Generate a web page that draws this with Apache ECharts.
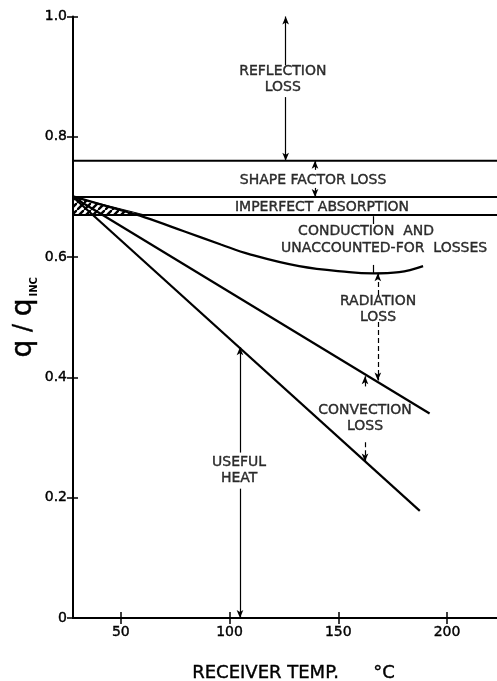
<!DOCTYPE html>
<html><head><meta charset="utf-8">
<script src="https://cdn.jsdelivr.net/npm/echarts@6/dist/echarts.min.js"></script>
<style>html,body{margin:0;padding:0;background:#fff}#c{width:497px;height:681px}</style>
</head><body><div id="c"></div>
<script>
// ---- data ----
const xMin = 28, xMax = 223;
const xTicks = [50, 100, 150, 200];
const yTicks = [0, 0.2, 0.4, 0.6, 0.8, 1.0];
const levelLines = [0.76, 0.70, 0.67];
const conductionX = [28, 45, 61, 79, 96, 109, 132, 155, 166, 178, 189];
const conductionY = [0.701, 0.683, 0.666, 0.643, 0.621, 0.605, 0.585, 0.575, 0.573, 0.575, 0.585];
const radiationX = [28, 192];
const radiationY = [0.70, 0.34];
const convectionX = [28, 187.5];
const convectionY = [0.70, 0.178];
const hatchX = [28, 28, 61];
const hatchY = [0.70, 0.67, 0.67];
// annotation segments: x, from, to (arrowhead at "to" end when flagged), dashed
const segX    = [125.8, 125.8, 139.3, 139.3, 166,   166,   168.2, 168.2, 162.3, 162.3, 104.8, 104.8];
const segFrom = [0.919, 0.866, 0.745, 0.715, 0.668, 0.587, 0.537, 0.492, 0.385, 0.292, 0.275, 0.215];
const segTo   = [1.0,   0.76,  0.76,  0.70,  0.655, 0.573, 0.573, 0.395, 0.402, 0.26,  0.45,  0.0];
const segArrow  = [true, true, true, true, false, false, true, true, true, true, true, true];
const segDashed = [false, false, false, false, false, false, true, true, false, true, false, false];
const labelText = ['REFLECTION\nLOSS', 'SHAPE FACTOR LOSS', 'IMPERFECT ABSORPTION', 'CONDUCTION  AND', 'UNACCOUNTED-FOR  LOSSES', 'RADIATION\nLOSS', 'CONVECTION\nLOSS', 'USEFUL\nHEAT'];
const labelX = [124.5, 138.4, 142.5, 162.8, 171.1, 168.3, 162.3, 104.4];
const labelY = [0.895, 0.728, 0.683, 0.642, 0.615, 0.513, 0.332, 0.246];

// ---- chart ----
const INK = '#000';
const FONT = 'DejaVu Sans, Liberation Sans, sans-serif';
const BOLDEN = { textBorderColor: '#000', textBorderWidth: 0.4 };
function hatchPattern() {
  const c = document.createElement('canvas'); c.width = 7; c.height = 7;
  const g = c.getContext('2d'); g.strokeStyle = INK; g.lineWidth = 2.4;
  g.beginPath();
  g.moveTo(-1, 8); g.lineTo(8, -1);
  g.moveTo(-4.5, 3.5); g.lineTo(3.5, -4.5);
  g.moveTo(3.5, 11.5); g.lineTo(11.5, 3.5);
  g.stroke();
  return c;
}
const pat = hatchPattern();
const zip = (xs, ys) => xs.map((x, i) => [x, ys[i]]);

const markData = segX.map((x, i) => [
  { coord: [x, segFrom[i]], symbol: 'none',
    lineStyle: { type: segDashed[i] ? [5, 3] : 'solid', width: 1.2, color: INK } },
  { coord: [x, segTo[i]], symbol: segArrow[i] ? 'arrow' : 'none', symbolSize: [5, 8] }
]);

const series = [];
levelLines.forEach(v => series.push({
  type: 'line', data: [[xMin, v], [xMax, v]], symbol: 'none', silent: true,
  lineStyle: { color: INK, width: 2 }
}));
series.push({
  type: 'line', data: zip(conductionX, conductionY), smooth: 0.4, symbol: 'none', silent: true,
  lineStyle: { color: INK, width: 2.2 },
  markLine: { silent: true, animation: false, label: { show: false }, symbol: ['none', 'arrow'], data: markData }
});
series.push({ type: 'line', data: zip(radiationX, radiationY), symbol: 'none', silent: true, lineStyle: { color: INK, width: 2.2 } });
series.push({ type: 'line', data: zip(convectionX, convectionY), symbol: 'none', silent: true, lineStyle: { color: INK, width: 2.2 } });
series.push({
  type: 'custom', silent: true, data: [[hatchX[0], hatchY[0]]],
  renderItem: (params, api) => ({
    type: 'polygon',
    shape: { points: hatchX.map((x, i) => api.coord([x, hatchY[i]])) },
    style: { fill: { image: pat, repeat: 'repeat' }, stroke: INK, lineWidth: 1 }
  })
});
series.push({
  type: 'scatter', symbolSize: 0, z: 10, silent: true,
  data: labelText.map((t, i) => ({ value: [labelX[i], labelY[i]], name: t })),
  label: Object.assign({ show: true, position: 'inside', formatter: '{b}', color: INK, fontSize: 14, fontFamily: FONT, lineHeight: 16 }, BOLDEN)
});

const chart = echarts.init(document.getElementById('c'), null, { renderer: 'canvas' });
chart.setOption({
  backgroundColor: '#fff',
  animation: false,
  grid: { left: 73, right: 0, top: 16.5, bottom: 63, containLabel: false, outerBoundsMode: 'none' },
  xAxis: [{
    type: 'value', min: xMin, max: xMax, position: 'bottom',
    axisLine: { show: true, lineStyle: { color: INK, width: 2 } },
    axisTick: { show: true, inside: true, length: 6, customValues: xTicks, lineStyle: { color: INK, width: 1.5 } },
    axisLabel: Object.assign({ customValues: xTicks, margin: 7, color: INK, fontSize: 14, fontFamily: FONT }, BOLDEN),
    splitLine: { show: false },
    name: 'RECEIVER TEMP.      °C', nameLocation: 'middle', nameGap: 46, nameMoveOverlap: false,
    nameTextStyle: Object.assign({ color: INK, fontSize: 18, fontFamily: FONT, padding: [0, 0, 0, 17] }, BOLDEN)
  }, {
    type: 'value', min: xMin, max: xMax, position: 'top',
    axisLine: { show: true, lineStyle: { color: INK, width: 2 } },
    axisTick: { show: true, inside: true, length: 6, customValues: xTicks, lineStyle: { color: INK, width: 1.5 } },
    axisLabel: { show: false }, splitLine: { show: false }
  }],
  yAxis: [{
    type: 'value', min: 0, max: 1, interval: 0.2, position: 'left',
    axisLine: { show: true, lineStyle: { color: INK, width: 2 } },
    axisTick: { show: true, inside: false, length: 6, lineStyle: { color: INK, width: 1.5 } },
    axisLabel: Object.assign({ margin: 6, color: INK, fontSize: 14, fontFamily: FONT,
      formatter: v => v === 0 ? '0' : v.toFixed(1) }, BOLDEN),
    splitLine: { show: false },
    name: '{q|q}{sp| / }{q|q}{s|INC}', nameLocation: 'middle', nameRotate: 90, nameGap: 34, nameMoveOverlap: false,
    nameTextStyle: { rich: {
      q: Object.assign({ fontSize: 28, fontFamily: FONT, color: INK, lineHeight: 30 }, BOLDEN),
      sp: Object.assign({ fontSize: 24, fontFamily: FONT, color: INK, lineHeight: 30 }, BOLDEN),
      s: { fontSize: 10, fontWeight: 'bold', fontFamily: FONT, color: INK, lineHeight: 30, verticalAlign: 'bottom', padding: [0, 0, 0, 2] }
    } }
  }, {
    type: 'value', min: 0, max: 1, interval: 0.2, position: 'left',
    axisLine: { show: false },
    axisTick: { show: true, inside: true, length: 5, lineStyle: { color: INK, width: 1.5 } },
    axisLabel: { show: false }, splitLine: { show: false }
  }],
  series: series
});
</script></body></html>
